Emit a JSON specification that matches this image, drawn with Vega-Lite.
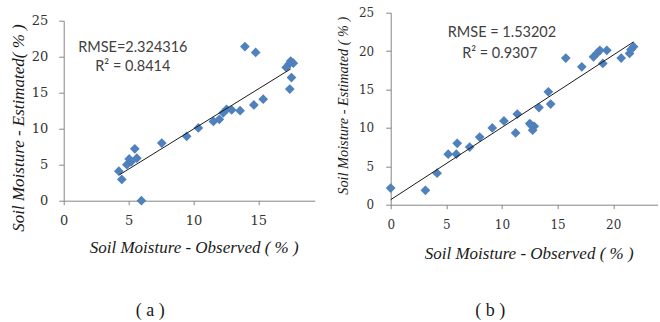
{
  "$schema": "https://vega.github.io/schema/vega-lite/v6.json",
  "padding": {"left": 8.7, "top": 6.7, "right": 0, "bottom": 0},
  "background": "white",
  "spacing": 21,
  "config": {
    "view": {"stroke": null},
    "axis": {
      "grid": false,
      "domainColor": "#868686",
      "tickColor": "#868686",
      "labelColor": "#333333",
      "labelFont": "DejaVu Serif, serif",
      "titleFont": "Liberation Serif, Times New Roman, serif",
      "titleFontStyle": "italic",
      "titleFontWeight": "normal",
      "titleColor": "#1a1a1a"
    }
  },
  "datasets": {
    "a": [
      {"obs": 4.25, "est": 4.1}, {"obs": 4.48, "est": 2.95}, {"obs": 4.87, "est": 5.0}, {"obs": 5.05, "est": 5.8},
      {"obs": 5.2, "est": 5.4}, {"obs": 5.48, "est": 7.2}, {"obs": 5.64, "est": 5.9}, {"obs": 5.99, "est": 0.0},
      {"obs": 7.56, "est": 8.0}, {"obs": 9.48, "est": 8.95}, {"obs": 10.38, "est": 10.1}, {"obs": 11.54, "est": 11.0},
      {"obs": 12.0, "est": 11.3}, {"obs": 12.3, "est": 12.2}, {"obs": 12.56, "est": 12.7}, {"obs": 12.95, "est": 12.6},
      {"obs": 13.6, "est": 12.5}, {"obs": 13.97, "est": 21.4}, {"obs": 14.8, "est": 20.6}, {"obs": 14.66, "est": 13.3},
      {"obs": 15.38, "est": 14.1}, {"obs": 17.15, "est": 18.5}, {"obs": 17.38, "est": 19.0}, {"obs": 17.5, "est": 19.4},
      {"obs": 17.7, "est": 19.1}, {"obs": 17.56, "est": 17.1}, {"obs": 17.43, "est": 15.5}
    ],
    "aLine": [{"obs": 4.3, "est": 3.6}, {"obs": 17.5, "est": 18.3}],
    "aText": [
      {"obs": 5.33, "est": 21.25, "label": "RMSE=2.324316"},
      {"obs": 5.33, "est": 18.5, "label": "R² = 0.8414"}
    ],
    "b": [
      {"obs": 0.0, "est": 2.17}, {"obs": 3.12, "est": 1.87}, {"obs": 4.17, "est": 4.1}, {"obs": 5.17, "est": 6.57},
      {"obs": 5.9, "est": 6.57}, {"obs": 5.98, "est": 8.0}, {"obs": 7.1, "est": 7.5}, {"obs": 8.0, "est": 8.8},
      {"obs": 9.13, "est": 10.0}, {"obs": 10.18, "est": 10.9}, {"obs": 11.23, "est": 9.35}, {"obs": 11.38, "est": 11.8},
      {"obs": 12.5, "est": 10.56}, {"obs": 12.9, "est": 10.2}, {"obs": 12.76, "est": 9.7}, {"obs": 12.6, "est": 10.4},
      {"obs": 13.33, "est": 12.65}, {"obs": 14.17, "est": 14.7}, {"obs": 14.38, "est": 13.1}, {"obs": 15.74, "est": 19.1},
      {"obs": 17.18, "est": 17.96}, {"obs": 18.23, "est": 19.26}, {"obs": 18.53, "est": 19.7}, {"obs": 18.8, "est": 20.1},
      {"obs": 19.07, "est": 18.4}, {"obs": 19.43, "est": 20.1}, {"obs": 20.72, "est": 19.1}, {"obs": 21.47, "est": 19.7},
      {"obs": 21.83, "est": 20.57}, {"obs": 21.6, "est": 20.2}
    ],
    "bLine": [{"obs": 0.0, "est": 0.65}, {"obs": 21.83, "est": 21.2}],
    "bText": [
      {"obs": 10.0, "est": 22.3, "label": "RMSE = 1.53202"},
      {"obs": 9.8, "est": 19.6, "label": "R² = 0.9307"}
    ]
  },
  "hconcat": [
    {
      "width": 251,
      "height": 188,
      "title": {"text": "( a )", "orient": "bottom", "font": "Liberation Serif, Times New Roman, serif", "fontSize": 18, "fontWeight": "normal", "color": "#1a1a1a", "dx": -39, "offset": 46},
      "layer": [
        {
          "data": {"name": "a"},
          "mark": {"type": "point", "shape": "diamond", "filled": true, "size": 95, "color": "#4F81BD", "opacity": 1},
          "encoding": {
            "x": {"field": "obs", "type": "quantitative", "scale": {"domain": [0, 19.35], "nice": false, "zero": false},
              "axis": {"values": [0, 5, 10, 15], "labelFlush": false, "title": "Soil Moisture - Observed ( % )", "titleFontSize": 17, "titlePadding": 12, "titleX": 130, "labelFontSize": 13, "tickSize": 4, "labelPadding": 10}},
            "y": {"field": "est", "type": "quantitative", "scale": {"domain": [0, 25], "nice": false, "range": [188, 8]},
              "axis": {"values": [0, 5, 10, 15, 20, 25], "tickCount": 6, "title": "Soil Moisture - Estimated( % )", "titleFontSize": 17, "titlePadding": 4, "titleY": 114.8, "labelFontSize": 13, "tickSize": 5, "labelPadding": 11}}
          }
        },
        {
          "data": {"name": "aLine"},
          "mark": {"type": "line", "color": "#1a1a1a", "strokeWidth": 1},
          "encoding": {"x": {"field": "obs", "type": "quantitative"}, "y": {"field": "est", "type": "quantitative"}}
        },
        {
          "data": {"name": "aText"},
          "mark": {"type": "text", "font": "Lato", "fontSize": 14.5, "baseline": "middle", "color": "#404040"},
          "encoding": {"x": {"field": "obs", "type": "quantitative"}, "y": {"field": "est", "type": "quantitative"}, "text": {"field": "label"}}
        }
      ]
    },
    {
      "width": 267,
      "height": 192,
      "title": {"text": "( b )", "orient": "bottom", "font": "Liberation Serif, Times New Roman, serif", "fontSize": 18, "fontWeight": "normal", "color": "#1a1a1a", "dx": -34, "offset": 40},
      "layer": [
        {
          "data": {"name": "b"},
          "mark": {"type": "point", "shape": "diamond", "filled": true, "size": 95, "color": "#4F81BD", "opacity": 1},
          "encoding": {
            "x": {"field": "obs", "type": "quantitative", "scale": {"domain": [0, 24], "nice": false, "zero": false},
              "axis": {"values": [0, 5, 10, 15, 20], "tickCount": 6, "labelFlush": false, "labelOverlap": false, "title": "Soil Moisture - Observed ( % )", "titleFontSize": 17, "titlePadding": 15, "titleX": 138, "labelFontSize": 12, "tickSize": 4, "labelPadding": 11}},
            "y": {"field": "est", "type": "quantitative", "scale": {"domain": [0, 25], "nice": false},
              "axis": {"values": [0, 5, 10, 15, 20, 25], "tickCount": 6, "title": "Soil Moisture - Estimated ( % )", "titleFontSize": 14.3, "titlePadding": 8, "titleY": 92.5, "labelFontSize": 12, "tickSize": 5, "labelPadding": 12}}
          }
        },
        {
          "data": {"name": "bLine"},
          "mark": {"type": "line", "color": "#1a1a1a", "strokeWidth": 1},
          "encoding": {"x": {"field": "obs", "type": "quantitative"}, "y": {"field": "est", "type": "quantitative"}}
        },
        {
          "data": {"name": "bText"},
          "mark": {"type": "text", "font": "Lato", "fontSize": 14.5, "baseline": "middle", "color": "#404040"},
          "encoding": {"x": {"field": "obs", "type": "quantitative"}, "y": {"field": "est", "type": "quantitative"}, "text": {"field": "label"}}
        }
      ]
    }
  ]
}
